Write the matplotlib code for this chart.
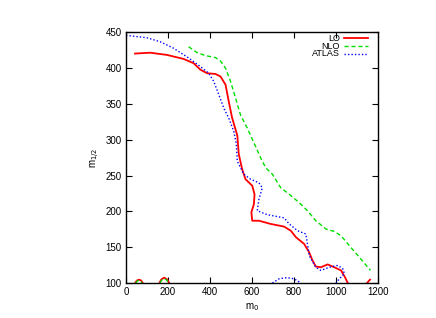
import matplotlib
matplotlib.use("Agg")
import matplotlib.pyplot as plt
from matplotlib.lines import Line2D

plt.rcParams['font.family'] = ['Liberation Sans', 'DejaVu Sans']

lo_x = [43, 115, 195, 274, 322, 354, 386, 426, 450, 474, 489, 505, 530, 537, 553, 569, 601, 612, 609, 597, 601, 633, 689, 753, 785, 809, 848, 872, 888, 904, 928, 960, 992, 1024, 1043, 1056]
lo_y = [420.5, 421.7, 418.6, 413, 407, 398, 393, 392, 388.5, 377, 354, 331, 306, 280, 259, 245, 236, 224, 210, 199, 187, 187, 182.5, 178.8, 173, 164, 154.7, 143, 131.5, 123, 122, 126, 122, 117.6, 108, 100]

nlo_x = [298, 338, 378, 426, 450, 474, 498, 522, 545, 577, 609, 641, 665, 697, 737, 777, 824, 864, 904, 952, 992, 1024, 1064, 1104, 1144, 1164]
nlo_y = [430, 422, 417.6, 414.9, 410, 400, 381.5, 358, 335, 316.7, 296, 275, 261, 252, 233, 224, 212.5, 201, 187, 175.5, 172, 166, 152, 138.5, 124.6, 117.6]

atlas_x = [0, 99, 163, 226, 290, 354, 394, 418, 442, 466, 489, 513, 525, 530, 561, 593, 633, 649, 633, 625, 673, 753, 777, 817, 856, 864, 872, 904, 928, 968, 1008, 1032, 1040, 1016, 1000]
atlas_y = [446, 442.6, 437, 428, 416, 402.4, 393, 381.5, 363, 344, 330.6, 312, 295, 270, 252, 245, 240, 233, 217, 201, 195.4, 191, 182.5, 173, 168.6, 154.7, 138.5, 122, 117.6, 122, 124.6, 120, 113, 106, 100]

# small contour islands near the bottom edge
lo_arc1_x = [43, 52, 62, 72, 80]
lo_arc1_y = [100, 103.5, 104.7, 103.5, 100]
lo_arc2_x = [159, 168, 182, 196, 206]
lo_arc2_y = [100, 105, 107.5, 105, 100]
nlo_arc1_x = [46, 54, 62, 70, 77]
nlo_arc1_y = [100, 102.8, 103.8, 102.8, 100]
nlo_arc2_x = [162, 170, 182, 194, 203]
nlo_arc2_y = [100, 104, 106.3, 104, 100]
lo_tail_x = [1148, 1155, 1162]
lo_tail_y = [100, 102.5, 104.7]
atlas_arc_x = [697, 730, 765, 800, 833]
atlas_arc_y = [100, 106, 107.5, 106, 100]

labels = ['LO', 'NLO', 'ATLAS']

fig = plt.figure(figsize=(4.36, 3.18), dpi=100)
ax = fig.add_axes([0.289, 0.110, 0.578, 0.788])

red = '#ff0000'
green = '#00dd00'
blue = '#0000ff'
styles = [dict(color=red, lw=1.3, ls='-'),
          dict(color=green, lw=1.0, ls=(0, (3, 2))),
          dict(color=blue, lw=1.0, ls=(0, (1, 1.5)))]

ax.plot(lo_x, lo_y, **styles[0])
ax.plot(nlo_x, nlo_y, **styles[1])
ax.plot(atlas_x, atlas_y, **styles[2])

ax.plot(lo_arc1_x, lo_arc1_y, **styles[0])
ax.plot(lo_arc2_x, lo_arc2_y, **styles[0])
ax.plot(nlo_arc1_x, nlo_arc1_y, **styles[1])
ax.plot(nlo_arc2_x, nlo_arc2_y, **styles[1])
ax.plot(lo_tail_x, lo_tail_y, **styles[0])
ax.plot(atlas_arc_x, atlas_arc_y, **styles[2])

ax.set_xlim(0, 1200)
ax.set_ylim(100, 450)
ax.set_xticks([0, 200, 400, 600, 800, 1000, 1200])
ax.set_yticks([100, 150, 200, 250, 300, 350, 400, 450])
ax.tick_params(direction='in', top=True, right=True, labelsize=7, length=4, width=0.8, pad=3)
for s in ax.spines.values():
    s.set_linewidth(1.0)

ax.set_xlabel(r'm$_0$', fontsize=7, labelpad=3)
ax.set_ylabel(r'm$_{1/2}$', fontsize=7, labelpad=3)

# gnuplot-style key: right-aligned text, sample line to the right
rows_y = [0.976, 0.945, 0.915]
for lab, st, yy in zip(labels, styles, rows_y):
    ax.text(0.849, yy, lab, transform=ax.transAxes, ha='right', va='center', fontsize=6.5)
    ax.add_line(Line2D([0.865, 0.96], [yy, yy], transform=ax.transAxes, **st))

fig.savefig('out.png', dpi=100)
